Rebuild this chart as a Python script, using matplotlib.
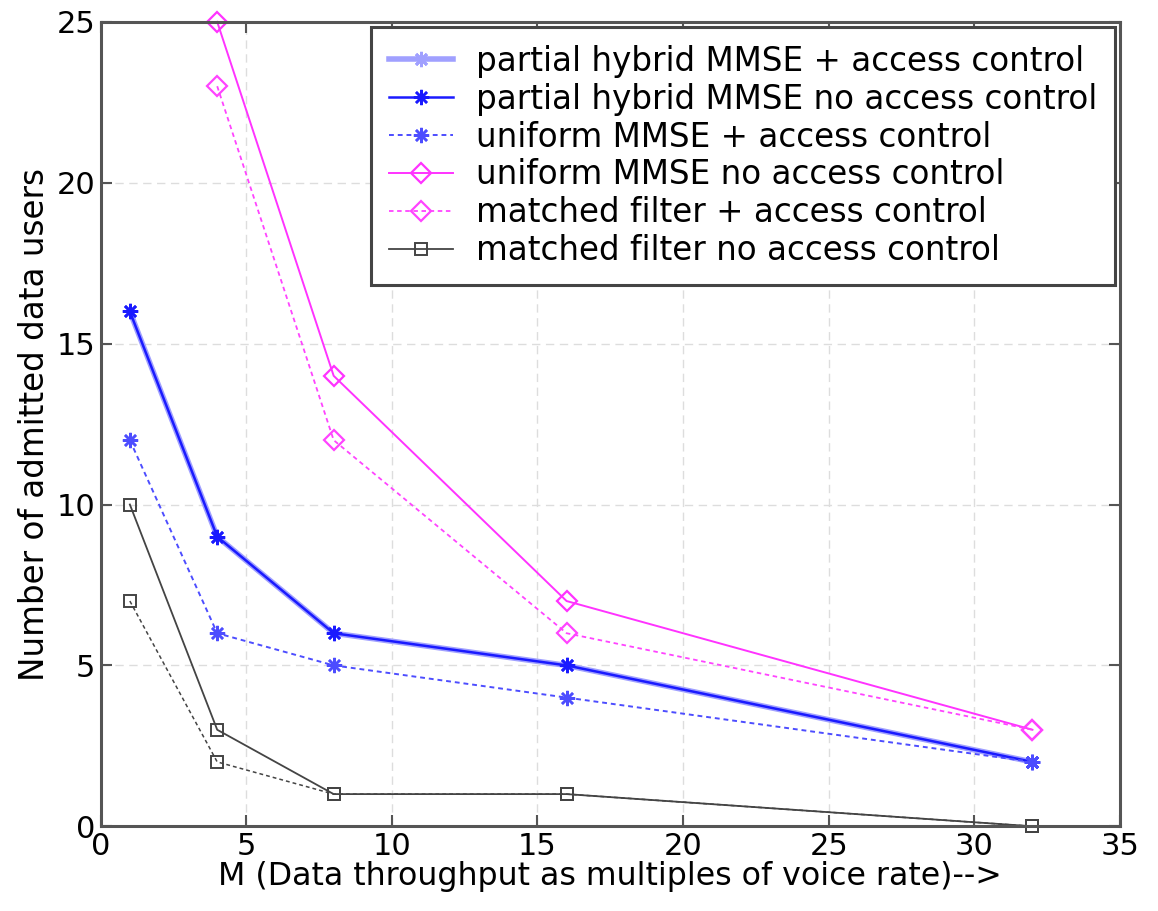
import matplotlib.pyplot as plt

M = [1, 4, 8, 16, 32]
M_uni = [4, 8, 16, 32]

hyb_nac = [16, 9, 6, 5, 2]
uni_mmse_ac = [12, 6, 5, 4, 2]
uni_mmse_nac = [25, 14, 7, 3]
mf_ac = [23, 12, 6, 3]
mf_nac = [10, 3, 1, 1, 0]
mf_dot = [7, 2, 1, 1, 0]

labels = ["partial hybrid MMSE + access control",
          "partial hybrid MMSE no access control",
          "uniform MMSE + access control",
          "uniform MMSE no access control",
          "matched filter + access control",
          "matched filter no access control"]

fig = plt.figure(figsize=(11.58, 9.11), dpi=100)
ax = fig.add_axes([0.087, 0.093, 0.88, 0.883])

ast = (8, 2, 0)
dash = (0, (2.5, 2))
ax.plot(M, hyb_nac, color="#a0a0ff", lw=4, marker=ast, ms=11, mew=2, label=labels[0])
ax.plot(M, hyb_nac, color="#1a1aff", lw=1.8, marker=ast, ms=11, mew=1.8, label=labels[1])
ax.plot(M, uni_mmse_ac, color="#4d4dff", lw=1.4, ls=dash, marker=ast, ms=11, mew=1.8,
        label=labels[2])
ax.plot(M_uni, uni_mmse_nac, color="#ff33ff", lw=1.4, marker="D", ms=10, mfc="none",
        mew=1.6, label=labels[3], clip_on=False)
ax.plot(M_uni, mf_ac, color="#ff44ff", lw=1.3, ls=dash, marker="D", ms=10, mfc="none",
        mew=1.6, label=labels[4])
ax.plot(M, mf_nac, color="#444444", lw=1.3, marker="s", ms=9, mfc="none", mew=1.4,
        label=labels[5], clip_on=False)
ax.plot(M, mf_dot, color="#444444", lw=1.1, ls=dash, marker="s", ms=9, mfc="none",
        mew=1.4, clip_on=False)

ax.set_xlim(0, 35)
ax.set_ylim(0, 25)
ax.set_xticks(range(0, 36, 5))
ax.set_yticks(range(0, 26, 5))
ax.grid(True, ls=(0, (6, 4)), color="#dddddd", lw=1)
ax.tick_params(direction="in", labelsize=22, length=8, width=1.5, color="#555555",
               top=True, right=True, pad=4)
for s in ax.spines.values():
    s.set_linewidth(2.2)
    s.set_color("#555555")

ax.set_xlabel("M (Data throughput as multiples of voice rate)-->", fontsize=22.8, labelpad=0)
ax.set_ylabel("Number of admitted data users", fontsize=23.5, labelpad=4)

leg = ax.legend(loc="upper right", fontsize=23.5, fancybox=False, framealpha=1,
                edgecolor="#444444", borderaxespad=0.15, handlelength=1.95,
                handletextpad=0.7, labelspacing=0.15, borderpad=0.55)
leg.get_frame().set_linewidth(2.2)

fig.savefig("out.png", dpi=100)
